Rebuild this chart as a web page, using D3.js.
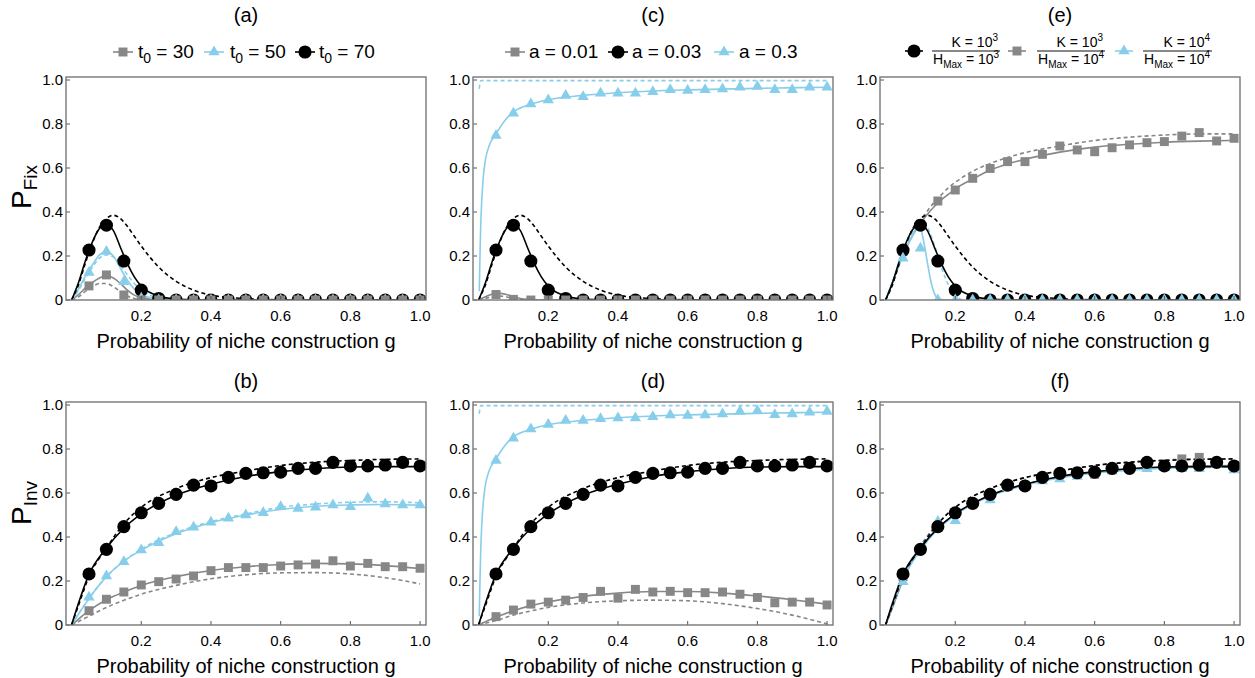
<!DOCTYPE html>
<html><head><meta charset="utf-8">
<script src="https://cdn.jsdelivr.net/npm/d3@7"></script>
<style>
body{margin:0;background:#fff}
text{font-family:"Liberation Sans",Arial,sans-serif;fill:#000}
</style>
</head><body>
<svg id="chart" width="1255" height="678"></svg>
<script>
// simulation points g = 0.05 ... 1.0
var gPts = [0.05,0.1,0.15,0.2,0.25,0.3,0.35,0.4,0.45,0.5,0.55,0.6,0.65,0.7,0.75,0.8,0.85,0.9,0.95,1.0];

// P_Fix simulation values
var fixT30 = [0.064,0.114,0.023,0,0,0,0,0,0,0,0,0,0,0,0,0,0,0,0,0];
var fixT50 = [0.125,0.22,0.083,0.008,0,0,0,0,0,0,0,0,0,0,0,0,0,0,0,0];
var fixT70 = [0.227,0.34,0.177,0.045,0.007,0,0,0,0,0,0,0,0,0,0,0,0,0,0,0];
var fixA001 = [0.025,0.003,0,0,0,0,0,0,0,0,0,0,0,0,0,0,0,0,0,0];
var fixA03 = [0.748,0.849,0.891,0.909,0.929,0.924,0.94,0.94,0.94,0.947,0.956,0.952,0.956,0.959,0.967,0.97,0.956,0.956,0.967,0.967];
var fixH4 = [0.22,0.345,0.45,0.5,0.553,0.598,0.629,0.629,0.662,0.7,0.682,0.674,0.692,0.705,0.715,0.72,0.745,0.761,0.723,0.735];
var fixK4 = [0.19,0.235,0,0,0,0,0,0,0,0,0,0,0,0,0,0,0,0,0,0];

// P_Inv simulation values
var invT30 = [0.065,0.117,0.15,0.182,0.197,0.209,0.223,0.247,0.261,0.261,0.261,0.268,0.273,0.277,0.292,0.268,0.28,0.265,0.265,0.258];
var invT50 = [0.126,0.223,0.288,0.341,0.374,0.424,0.444,0.467,0.485,0.5,0.51,0.538,0.53,0.535,0.545,0.538,0.576,0.55,0.545,0.545];
var invT70 = [0.232,0.344,0.447,0.51,0.553,0.594,0.636,0.632,0.671,0.689,0.692,0.695,0.712,0.712,0.739,0.723,0.723,0.727,0.739,0.723];
var invA001 = [0.038,0.068,0.095,0.104,0.113,0.125,0.153,0.122,0.162,0.15,0.153,0.147,0.147,0.15,0.14,0.125,0.101,0.104,0.104,0.091];
var invA03 = [0.748,0.849,0.891,0.911,0.929,0.929,0.937,0.941,0.941,0.947,0.955,0.952,0.955,0.959,0.971,0.974,0.956,0.959,0.967,0.971];
var invH4 = [0.22,0.345,0.445,0.51,0.55,0.59,0.63,0.635,0.665,0.685,0.69,0.685,0.705,0.71,0.73,0.72,0.755,0.762,0.735,0.725];
var invK4 = [0.197,0.34,0.47,0.474,0.55,0.568,0.625,0.64,0.655,0.664,0.675,0.69,0.7,0.71,0.71,0.715,0.71,0.71,0.73,0.705];

// theory curves, P_Fix
var gFix = [0,0.02,0.04,0.06,0.08,0.1,0.12,0.14,0.16,0.18,0.2,0.25,0.3,0.35,0.4,0.5,0.6,0.7,0.8,0.9,1.0];
var fixT70Solid = [0,0.08,0.18,0.265,0.325,0.345,0.315,0.24,0.165,0.105,0.063,0.018,0.004,0.001,0,0,0,0,0,0,0];
var fixT70Dash  = [0,0.07,0.17,0.26,0.33,0.37,0.385,0.37,0.335,0.29,0.245,0.15,0.085,0.045,0.022,0.006,0.001,0,0,0,0];
var fixT50Solid = [0,0.05,0.11,0.16,0.205,0.22,0.2,0.145,0.09,0.05,0.025,0.004,0,0,0,0,0,0,0,0,0];
var fixT50Dash  = [0,0.045,0.1,0.15,0.19,0.205,0.195,0.16,0.115,0.075,0.045,0.01,0.002,0,0,0,0,0,0,0,0];
var fixT30Solid = [0,0.025,0.055,0.08,0.1,0.11,0.1,0.075,0.045,0.022,0.01,0.001,0,0,0,0,0,0,0,0,0];
var fixT30Dash  = [0,0.015,0.04,0.06,0.075,0.075,0.06,0.038,0.018,0.007,0.002,0,0,0,0,0,0,0,0,0,0];
var fixA001Solid = [0,0.015,0.027,0.03,0.025,0.015,0.007,0.003,0.001,0,0,0,0,0,0,0,0,0,0,0,0];
var fixA001Dash  = [0,0.008,0.015,0.018,0.014,0.008,0.003,0.001,0,0,0,0,0,0,0,0,0,0,0,0,0];
var fixH4Solid = [0,0.08,0.165,0.24,0.3,0.35,0.39,0.425,0.455,0.48,0.505,0.55,0.59,0.618,0.64,0.672,0.695,0.708,0.717,0.722,0.725];
var fixH4Dash  = [0,0.08,0.165,0.245,0.31,0.36,0.405,0.445,0.478,0.51,0.535,0.585,0.62,0.648,0.67,0.7,0.725,0.74,0.75,0.755,0.755];

var gK4 = [0,0.02,0.04,0.06,0.08,0.095,0.11,0.12,0.13,0.14,0.15,0.17,0.2];
var fixK4Solid = [0,0.08,0.165,0.24,0.3,0.35,0.26,0.17,0.085,0.03,0.008,0,0];
var gK4d = [0,0.02,0.04,0.06,0.08,0.1,0.12,0.14,0.16,0.18,0.2,0.22];
var fixK4Dash = [0,0.08,0.165,0.245,0.31,0.36,0.33,0.25,0.15,0.07,0.02,0];

var gA03 = [0.002,0.004,0.006,0.009,0.013,0.02,0.03,0.05,0.075,0.1,0.15,0.2,0.3,0.4,0.5,0.6,0.8,1.0];
var a03Solid = [0.04,0.2,0.33,0.45,0.55,0.64,0.7,0.755,0.815,0.855,0.89,0.91,0.93,0.942,0.95,0.955,0.962,0.967];
var gA03d = [0.002,0.004,0.007,0.02,1.0];
var a03Dash = [0.96,0.985,0.997,0.997,0.997];

// theory curves, P_Inv
var gInv = [0,0.02,0.05,0.1,0.15,0.2,0.3,0.4,0.5,0.6,0.7,0.8,0.9,1.0];
var invT70Solid = [0,0.1,0.23,0.35,0.44,0.505,0.59,0.64,0.675,0.697,0.71,0.718,0.72,0.72];
var invT70Dash  = [0,0.09,0.22,0.35,0.46,0.535,0.62,0.67,0.7,0.725,0.74,0.748,0.753,0.755];
var invT50Solid = [0,0.05,0.12,0.22,0.29,0.34,0.415,0.465,0.5,0.525,0.54,0.546,0.548,0.545];
var invT50Dash  = [0,0.05,0.12,0.22,0.29,0.345,0.42,0.47,0.505,0.535,0.55,0.558,0.56,0.555];
var invT30Solid = [0,0.027,0.065,0.115,0.15,0.18,0.22,0.248,0.265,0.275,0.28,0.278,0.27,0.257];
var invT30Dash  = [0,0.016,0.04,0.08,0.112,0.14,0.18,0.21,0.228,0.237,0.238,0.232,0.215,0.187];
var invA001Solid = [0,0.015,0.035,0.065,0.088,0.105,0.13,0.145,0.152,0.152,0.145,0.132,0.115,0.095];
var invA001Dash  = [0,0.008,0.02,0.045,0.064,0.08,0.1,0.11,0.113,0.11,0.097,0.075,0.045,0.005];
var invK4Solid = [0,0.09,0.21,0.34,0.435,0.5,0.585,0.635,0.668,0.69,0.703,0.712,0.716,0.718];

var yTicks = [0,0.2,0.4,0.6,0.8,1.0];
var xTicks = [0.2,0.4,0.6,0.8,1.0];

var BLACK = "#000", GREY = "#878787", BLUE = "#87ceeb";

var svg = d3.select("#chart");
var W = 360;
var colLeft = [66, 473, 880];
var rowTop = [{top: 77, bottom: 300}, {top: 402, bottom: 625}];

function L(g, v, color, dash) { return {g: g, v: v, color: color, dash: dash}; }
function M(v, color, shape) { return {v: v, color: color, shape: shape}; }

var panels = [
  {title: "(a)", col: 0, row: 0, ylab: "Fix",
   lines: [L(gFix, fixT30Dash, GREY, true), L(gFix, fixT30Solid, GREY), L(gFix, fixT50Dash, BLUE, true), L(gFix, fixT50Solid, BLUE),
           L(gFix, fixT70Dash, BLACK, true), L(gFix, fixT70Solid, BLACK)],
   marks: [M(fixT70, BLACK, "circle"), M(fixT50, BLUE, "triangle"), M(fixT30, GREY, "square")]},
  {title: "(b)", col: 0, row: 1, ylab: "Inv",
   lines: [L(gInv, invT30Dash, GREY, true), L(gInv, invT30Solid, GREY), L(gInv, invT50Dash, BLUE, true), L(gInv, invT50Solid, BLUE),
           L(gInv, invT70Dash, BLACK, true), L(gInv, invT70Solid, BLACK)],
   marks: [M(invT70, BLACK, "circle"), M(invT50, BLUE, "triangle"), M(invT30, GREY, "square")]},
  {title: "(c)", col: 1, row: 0,
   lines: [L(gA03d, a03Dash, BLUE, true), L(gA03, a03Solid, BLUE), L(gFix, fixA001Dash, GREY, true), L(gFix, fixA001Solid, GREY),
           L(gFix, fixT70Dash, BLACK, true), L(gFix, fixT70Solid, BLACK)],
   marks: [M(fixT70, BLACK, "circle"), M(fixA03, BLUE, "triangle"), M(fixA001, GREY, "square")]},
  {title: "(d)", col: 1, row: 1,
   lines: [L(gA03d, a03Dash, BLUE, true), L(gA03, a03Solid, BLUE), L(gInv, invA001Dash, GREY, true), L(gInv, invA001Solid, GREY),
           L(gInv, invT70Dash, BLACK, true), L(gInv, invT70Solid, BLACK)],
   marks: [M(invT70, BLACK, "circle"), M(invA03, BLUE, "triangle"), M(invA001, GREY, "square")]},
  {title: "(e)", col: 2, row: 0,
   lines: [L(gFix, fixH4Dash, GREY, true), L(gFix, fixH4Solid, GREY), L(gK4d, fixK4Dash, BLUE, true), L(gK4, fixK4Solid, BLUE),
           L(gFix, fixT70Dash, BLACK, true), L(gFix, fixT70Solid, BLACK)],
   marks: [M(fixH4, GREY, "square"), M(fixT70, BLACK, "circle"), M(fixK4, BLUE, "triangle")]},
  {title: "(f)", col: 2, row: 1,
   lines: [L(gFix, fixH4Dash, GREY, true), L(gFix, fixH4Solid, GREY), L(gInv, invK4Solid, BLUE),
           L(gInv, invT70Dash, BLACK, true), L(gInv, invT70Solid, BLACK)],
   marks: [M(invH4, GREY, "square"), M(invK4, BLUE, "triangle"), M(invT70, BLACK, "circle")]}
];

var shapes = {
  circle: d3.symbol().type(d3.symbolCircle).size(135),
  square: d3.symbol().type(d3.symbolSquare).size(80),
  triangle: d3.symbol().type(d3.symbolTriangle).size(55)
};

panels.forEach(function(p, i) {
  var left = colLeft[p.col], top = rowTop[p.row].top, bottom = rowTop[p.row].bottom;
  var x = d3.scaleLinear().domain([-0.016, 1.017]).range([left, left + W]);
  var y = d3.scaleLinear().domain([0, (bottom - top) / ((bottom - top) - 3)]).range([bottom, top]);
  var g = svg.append("g");

  // 제목
  g.append("text").attr("x", left + W / 2).attr("y", p.row === 0 ? 22 : 388)
    .attr("text-anchor", "middle").style("font-size", "20px").text(p.title);

  var clipId = "clip" + i;
  svg.append("clipPath").attr("id", clipId).append("rect")
    .attr("x", left).attr("y", top).attr("width", W).attr("height", bottom - top);

  var plot = g.append("g").attr("clip-path", "url(#" + clipId + ")");
  var line = d3.line().x(function(d) { return x(d[0]); }).y(function(d) { return y(d[1]); }).curve(d3.curveMonotoneX);

  p.lines.forEach(function(l) {
    plot.append("path")
      .datum(l.g.map(function(gv, k) { return [gv, l.v[k]]; }))
      .attr("d", line)
      .attr("fill", "none")
      .attr("stroke", l.color)
      .attr("stroke-width", 1.6)
      .attr("stroke-dasharray", l.dash ? "4,3" : null);
  });

  p.marks.forEach(function(m) {
    plot.append("g").selectAll("path")
      .data(gPts.map(function(gv, k) { return [gv, m.v[k]]; }))
      .enter().append("path")
      .attr("d", shapes[m.shape])
      .attr("transform", function(d) { return "translate(" + x(d[0]) + "," + y(d[1]) + ")"; })
      .attr("fill", m.color);
  });

  // 틱
  g.selectAll(".yt").data(yTicks).enter().append("line")
    .attr("x1", left).attr("x2", left + 4)
    .attr("y1", function(d) { return y(d); }).attr("y2", function(d) { return y(d); })
    .attr("stroke", "#555");
  g.selectAll(".xt").data(xTicks).enter().append("line")
    .attr("x1", function(d) { return x(d); }).attr("x2", function(d) { return x(d); })
    .attr("y1", bottom).attr("y2", bottom - 4)
    .attr("stroke", "#555");

  g.selectAll(".yl").data(yTicks).enter().append("text")
    .attr("x", left - 3).attr("y", function(d) { return y(d) + 5; })
    .attr("text-anchor", "end").style("font-size", "15px")
    .text(function(d) { return d === 0 ? "0" : d.toFixed(1); });
  g.selectAll(".xl").data(xTicks).enter().append("text")
    .attr("x", function(d) { return x(d); }).attr("y", bottom + 21)
    .attr("text-anchor", "middle").style("font-size", "15px")
    .text(function(d) { return d.toFixed(1); });

  // 프레임
  g.append("rect").attr("x", left).attr("y", top).attr("width", W).attr("height", bottom - top)
    .attr("fill", "none").attr("stroke", "#777").attr("stroke-width", 1.4);

  // X축 라벨
  g.append("text").attr("x", left + W / 2).attr("y", bottom + 48)
    .attr("text-anchor", "middle").style("font-size", "20px")
    .text("Probability of niche construction g");

  // Y축 라벨
  if (p.ylab) {
    var cy = p.row === 0 ? 187 : 503;
    var t = g.append("text").attr("transform", "translate(31," + cy + ") rotate(-90)")
      .attr("text-anchor", "middle").style("font-size", "28px");
    t.append("tspan").text("P");
    t.append("tspan").attr("dy", 6).style("font-size", "19px").text(p.ylab);
  }
});

// 범례
function legendMark(x0, yy, w, color, shape) {
  svg.append("line").attr("x1", x0).attr("x2", x0 + w).attr("y1", yy).attr("y2", yy)
    .attr("stroke", color).attr("stroke-width", 1.6);
  svg.append("path").attr("d", shapes[shape])
    .attr("transform", "translate(" + (x0 + w / 2) + "," + yy + ")").attr("fill", color);
}

var legA = [
  {x: 113, tx: 138, color: GREY, shape: "square", num: "30"},
  {x: 204, tx: 230, color: BLUE, shape: "triangle", num: "50"},
  {x: 295, tx: 319, color: BLACK, shape: "circle", num: "70"}
];
legA.forEach(function(d) {
  legendMark(d.x, 52, 20, d.color, d.shape);
  var t = svg.append("text").attr("x", d.tx).attr("y", 58).style("font-size", "19px");
  t.append("tspan").text("t");
  t.append("tspan").attr("dy", 5).style("font-size", "14px").text("0");
  t.append("tspan").attr("dy", -5).text(" = " + d.num);
});

var legC = [
  {x: 505, tx: 529, color: GREY, shape: "square", label: "a = 0.01"},
  {x: 608, tx: 632, color: BLACK, shape: "circle", label: "a = 0.03"},
  {x: 714, tx: 739, color: BLUE, shape: "triangle", label: "a = 0.3"}
];
legC.forEach(function(d) {
  legendMark(d.x, 52, 20, d.color, d.shape);
  svg.append("text").attr("x", d.tx).attr("y", 58).style("font-size", "19px").text(d.label);
});

var legE = [
  {x: 905, b0: 932, b1: 1000, color: BLACK, shape: "circle", k: "3", h: "3"},
  {x: 1008, b0: 1037, b1: 1105, color: GREY, shape: "square", k: "3", h: "4"},
  {x: 1115, b0: 1143, b1: 1212, color: BLUE, shape: "triangle", k: "4", h: "4"}
];
legE.forEach(function(d) {
  legendMark(d.x, 51, 18, d.color, d.shape);
  svg.append("line").attr("x1", d.b0).attr("x2", d.b1).attr("y1", 51).attr("y2", 51)
    .attr("stroke", "#111").attr("stroke-width", 1);
  var n = svg.append("text").attr("x", d.b1 - 2).attr("y", 47).attr("text-anchor", "end").style("font-size", "14px");
  n.append("tspan").text("K = 10");
  n.append("tspan").attr("dy", -6).style("font-size", "10px").text(d.k);
  var m = svg.append("text").attr("x", d.b0 + 1).attr("y", 64).style("font-size", "14px");
  m.append("tspan").text("H");
  m.append("tspan").attr("dy", 4).style("font-size", "10px").text("Max");
  m.append("tspan").attr("dy", -4).text(" = 10");
  m.append("tspan").attr("dy", -6).style("font-size", "10px").text(d.h);
});
</script>
</body></html>
